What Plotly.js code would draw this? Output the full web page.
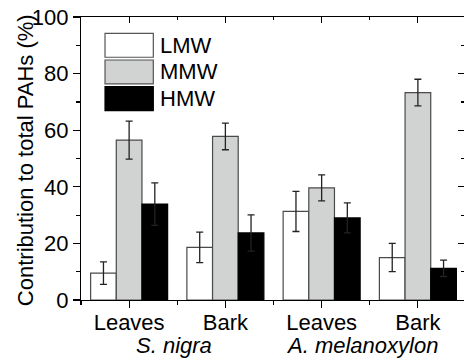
<!DOCTYPE html>
<html>
<head>
<meta charset="utf-8">
<script src="https://cdn.plot.ly/plotly-3.0.1.min.js"></script>
<style>
  html, body { margin: 0; padding: 0; overflow: hidden; background: #fff; }
  #chart { width: 464px; height: 361px; }
</style>
</head>
<body>
<div id="chart"></div>
<script>
// ---- data ----
const categories = ['Leaves', 'Bark', 'Leaves', 'Bark'];
const species = ['S. nigra', 'A. melanoxylon'];
const seriesNames = ['LMW', 'MMW', 'HMW'];
const lmw = [9.5, 18.6, 31.3, 15.0];
const lmwErr = [4.0, 5.4, 7.1, 5.0];
const mmw = [56.5, 57.8, 39.6, 73.3];
const mmwErr = [6.7, 4.7, 4.6, 4.7];
const hmw = [33.9, 23.7, 29.0, 11.2];
const hmwErr = [7.5, 6.4, 5.3, 2.9];
const yTicks = [0, 20, 40, 60, 80, 100];
const yTitle = 'Contribution to total PAHs (%)';

// ---- styling ----
const FONT = 'Liberation Sans, Arial, sans-serif';
const FS = 22;
const fills = ['#ffffff', '#d1d3d2', '#000000'];
const outlines = ['#4a4a4a', '#4a4a4a', '#000000'];
const xIdx = categories.map((_, i) => i);
const values = [lmw, mmw, hmw];
const errs = [lmwErr, mmwErr, hmwErr];
const XR = [-0.5, 3.479];
const speciesX = [0.466, 2.419];

const traces = seriesNames.map((name, k) => ({
  type: 'bar',
  name: name,
  x: xIdx,
  y: values[k],
  marker: { color: fills[k], line: { color: outlines[k], width: 1.2 } },
  error_y: { type: 'data', array: errs[k], visible: true, color: '#222222', thickness: 1.3, width: 3.5 },
  showlegend: false,
  hoverinfo: 'skip'
}));
// invisible trace to hold the mirrored axes
traces.push({ x: [0], y: [0], xaxis: 'x2', yaxis: 'y2', mode: 'markers', marker: { opacity: 0 }, showlegend: false, hoverinfo: 'skip' });

// legend drawn as large swatches
const boxX0 = 0.0627, boxX1 = 0.1888;
const boxTop = [0.9424, 0.8481, 0.7537];
const boxH = 0.0846;
const shapes = seriesNames.map((n, k) => ({
  type: 'rect', xref: 'paper', yref: 'paper',
  x0: boxX0, x1: boxX1, y0: boxTop[k] - boxH, y1: boxTop[k],
  fillcolor: fills[k], line: { color: k === 2 ? '#000' : '#555555', width: 1.2 }
}));
const annotations = seriesNames.map((n, k) => ({
  xref: 'paper', yref: 'paper', x: 0.201, y: boxTop[k] - boxH / 2,
  xanchor: 'left', yanchor: 'middle', showarrow: false,
  text: n, font: { family: FONT, size: FS, color: '#000' }
}));
species.forEach((s, j) => {
  annotations.push({
    xref: 'x', yref: 'paper', x: speciesX[j], y: -0.16,
    xanchor: 'center', yanchor: 'middle', showarrow: false,
    text: '<i>' + s + '</i>', font: { family: FONT, size: FS, color: '#000' }
  });
});
annotations.push({
  xref: 'paper', yref: 'paper', x: -0.143, y: 0.495,
  xanchor: 'center', yanchor: 'middle', showarrow: false, textangle: -90,
  text: yTitle, font: { family: FONT, size: FS, color: '#000' }
});

const layout = {
  width: 464, height: 361,
  margin: { l: 81, r: 0, t: 17, b: 61 },
  paper_bgcolor: '#fff', plot_bgcolor: '#fff',
  barmode: 'group', bargap: 0.2, bargroupgap: 0,
  font: { family: FONT, size: FS, color: '#000' },
  xaxis: {
    range: XR, tickvals: xIdx, ticktext: categories,
    ticks: 'outside', ticklen: 7, tickwidth: 1.2, tickcolor: '#000',
    ticklabelstandoff: -5,
    minor: { dtick: 0.5, tick0: 0.5, ticks: 'outside', ticklen: 4, tickwidth: 1.2, tickcolor: '#000' },
    showline: true, linecolor: '#000', linewidth: 1.2, showgrid: false, zeroline: false,
    tickfont: { family: FONT, size: FS, color: '#000' }, fixedrange: true
  },
  yaxis: {
    range: [0, 100], tickvals: yTicks,
    ticks: 'outside', ticklen: 7, tickwidth: 1.2, tickcolor: '#000',
    minor: { dtick: 10, ticks: 'outside', ticklen: 4, tickwidth: 1.2, tickcolor: '#000' },
    showline: true, linecolor: '#000', linewidth: 1.2, showgrid: false, zeroline: false,
    tickfont: { family: FONT, size: FS, color: '#000' },
    fixedrange: true
  },
  xaxis2: {
    overlaying: 'x', side: 'top', range: XR, tickvals: xIdx, showticklabels: false,
    ticks: 'inside', ticklen: 6, tickwidth: 1.2, tickcolor: '#000',
    minor: { dtick: 0.5, tick0: 0.5, ticks: 'inside', ticklen: 3, tickwidth: 1.2, tickcolor: '#000' },
    showline: true, linecolor: '#000', linewidth: 1.2, showgrid: false, zeroline: false
  },
  yaxis2: {
    overlaying: 'y', side: 'right', range: [0, 100], tickvals: yTicks, showticklabels: false,
    ticks: 'inside', ticklen: 6, tickwidth: 1.2, tickcolor: '#000',
    minor: { dtick: 10, ticks: 'inside', ticklen: 3, tickwidth: 1.2, tickcolor: '#000' },
    showline: false, showgrid: false, zeroline: false
  },
  shapes: shapes,
  annotations: annotations,
  showlegend: false
};

Plotly.newPlot('chart', traces, layout, { staticPlot: true, displayModeBar: false });
</script>
</body>
</html>
